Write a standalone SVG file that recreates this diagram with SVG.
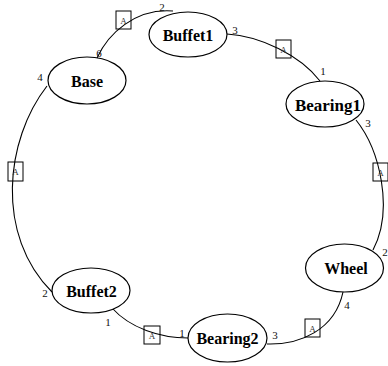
<svg xmlns="http://www.w3.org/2000/svg" width="388" height="366" viewBox="0 0 388 366">
  <style>
    .node ellipse { fill: #fff; stroke: #000; stroke-width: 1.2; }
    .node text { font-family: "Liberation Serif", "Times New Roman", serif; font-weight: bold; font-size: 16px; text-anchor: middle; fill: #000; }
    .edges path { fill: none; stroke: #000; stroke-width: 1.1; }
    .port { font-family: "Liberation Serif", "Times New Roman", serif; font-size: 11px; text-anchor: middle; fill: #111; }
    .tag rect { fill: none; stroke: #000; stroke-width: 1; }
    .tag text { font-family: "Liberation Serif", "Times New Roman", serif; font-size: 9px; text-anchor: middle; fill: #333; }
  </style>

  <!-- connectors -->
  <g id="edges" class="edges">
    <path d="M97,58 C108,34 135,8 173,11"/>
    <path d="M227,34 C260,36 300,55 320,81"/>
    <path d="M356,120 C380,150 394,210 373,250"/>
    <path d="M343,292 C335,330 300,345 267,344"/>
    <path d="M112,308 C130,328 160,338 188,338"/>
    <path d="M47,86 C5,140 -5,235 52,292"/>
  </g>

  <!-- connector tags -->
  <g id="tags" class="tag">
    <rect x="116" y="11" width="15" height="18"/><text x="123.5" y="24">A</text>
    <rect x="276" y="40" width="15" height="18"/><text x="283.5" y="53">A</text>
    <rect x="8" y="162" width="15" height="19"/><text x="15.5" y="175">A</text>
    <rect x="373" y="163" width="15" height="18"/><text x="380.5" y="176">A</text>
    <rect x="144" y="326" width="16" height="18"/><text x="152" y="339">A</text>
    <rect x="305" y="319" width="15" height="18"/><text x="312.5" y="332">A</text>
  </g>

  <!-- port numbers -->
  <g id="ports">
    <text class="port" x="162" y="11">2</text>
    <text class="port" x="99" y="57">6</text>
    <text class="port" x="40" y="81">4</text>
    <text class="port" x="235" y="34">3</text>
    <text class="port" x="323" y="75">1</text>
    <text class="port" x="368" y="127">3</text>
    <text class="port" x="385" y="256">2</text>
    <text class="port" x="347" y="309">4</text>
    <text class="port" x="275" y="339">3</text>
    <text class="port" x="182" y="337">1</text>
    <text class="port" x="108" y="326">1</text>
    <text class="port" x="45" y="297">2</text>
  </g>

  <g id="Buffet1" class="node">
    <ellipse cx="188" cy="34.5" rx="39" ry="22.5"/>
    <text x="188" y="40.5">Buffet1</text>
  </g>
  <g id="Base" class="node">
    <ellipse cx="87" cy="80.5" rx="39" ry="23.5"/>
    <text x="87" y="86.5">Base</text>
  </g>
  <g id="Bearing1" class="node">
    <ellipse cx="325" cy="104" rx="39" ry="23"/>
    <text x="328" y="110.5" textLength="66" lengthAdjust="spacingAndGlyphs">Bearing1</text>
  </g>
  <g id="Wheel" class="node">
    <ellipse cx="344.5" cy="268" rx="39" ry="24"/>
    <text x="346" y="274">Wheel</text>
  </g>
  <g id="Buffet2" class="node">
    <ellipse cx="91" cy="290.5" rx="39" ry="22.5"/>
    <text x="91.5" y="296.5">Buffet2</text>
  </g>
  <g id="Bearing2" class="node">
    <ellipse cx="227.5" cy="338" rx="39.5" ry="24"/>
    <text x="227.5" y="344">Bearing2</text>
  </g>
</svg>
